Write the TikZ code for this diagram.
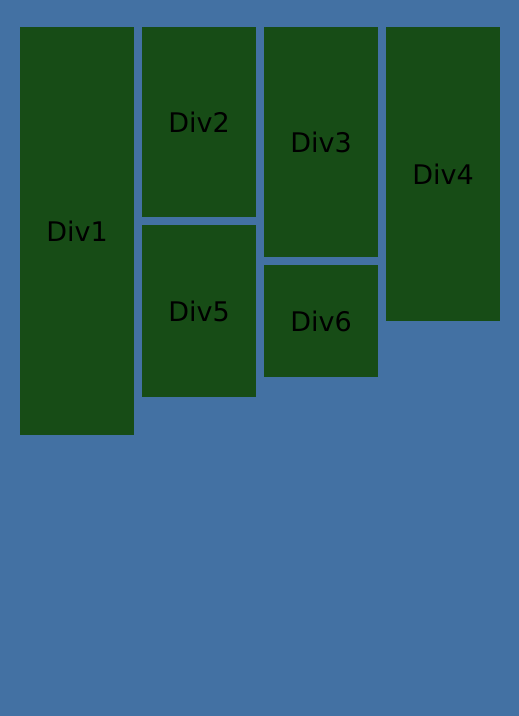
\documentclass[tikz,border=0pt]{standalone}
\usepackage{fontspec}
\setmainfont{DejaVu Sans}
\definecolor{bgblue}{HTML}{4371A3}
\definecolor{divgreen}{HTML}{174C16}
\tikzset{divbox/.style={fill=divgreen, draw=none, inner sep=0pt, font=\fontsize{27}{32}\selectfont, text=black}}
\begin{document}
\begin{tikzpicture}[x=1pt,y=-1pt]
\fill[bgblue] (0,0) rectangle (519,716);
\useasboundingbox (0,0) rectangle (519,716);
\node[divbox, minimum width=114pt, minimum height=408pt] (d1) at (77,231) {Div1};
\node[divbox, minimum width=114pt, minimum height=190pt] (d2) at (199,122) {Div2};
\node[divbox, minimum width=114pt, minimum height=172pt] (d5) at (199,311) {Div5};
\node[divbox, minimum width=114pt, minimum height=230pt] (d3) at (321,142) {Div3};
\node[divbox, minimum width=114pt, minimum height=112pt] (d6) at (321,321) {Div6};
\node[divbox, minimum width=114pt, minimum height=294pt] (d4) at (443,174) {Div4};
\end{tikzpicture}
\end{document}
